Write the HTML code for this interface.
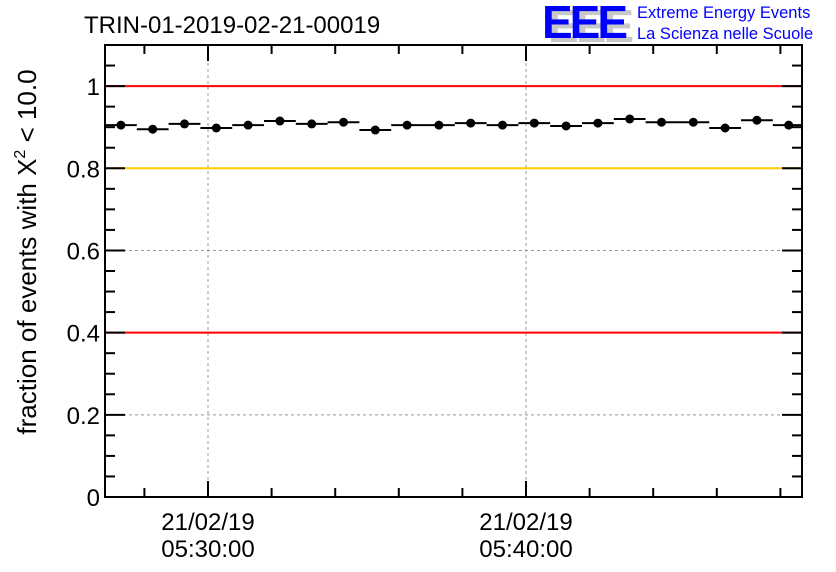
<!DOCTYPE html>
<html><head><meta charset="utf-8"><style>
body{margin:0;background:#fff;}
svg{display:block;font-family:"Liberation Sans",sans-serif;}
</style></head><body>
<svg id="chart" width="836" height="572" viewBox="0 0 836 572">
<text x="84" y="33" font-size="24">TRIN-01-2019-02-21-00019</text>
<g>
<text x="548" y="42" font-size="46" font-weight="bold" fill="#c8c8c8" letter-spacing="-3">EEE</text>
<text x="542" y="38" font-size="46" font-weight="bold" fill="#0000ff" letter-spacing="-3">EEE</text>
<text x="637" y="18" font-size="16.5" fill="#0000ff">Extreme Energy Events</text>
<text x="637" y="39" font-size="16.5" fill="#0000ff">La Scienza nelle Scuole</text>
</g>
<g id="grid"></g>
<g id="refs"></g>
<g id="marks"></g>
<g id="axes"></g>
<text transform="translate(36,252) rotate(-90)" text-anchor="middle" font-size="26">fraction of events with X<tspan dy="-11" font-size="16">2</tspan><tspan dy="11"> &lt; 10.0</tspan></text>
</svg>
<script>
const values=[0.905,0.895,0.908,0.898,0.905,0.915,0.908,0.912,0.893,0.905,0.905,0.91,0.905,0.91,0.903,0.91,0.92,0.912,0.912,0.898,0.917,0.905];
const yTicks=[0,0.2,0.4,0.6,0.8,1];
const yTickLabels=["0","0.2","0.4","0.6","0.8","1"];
const xMajorMinutes=[10,20];
const xTickLabels=[["21/02/19","05:30:00"],["21/02/19","05:40:00"]];
const refLines=[1.0,0.8,0.4];
const refColors=["#ff0000","#ffcc00","#ff0000"];

const L=105,R=802,T=45,B=497;
const minPx=31.8;
function xm(m){return 208+(m-10)*minPx;}
function binStart(i){return L+i*minPx;}
function y(v){return B-(v/1.1)*(B-T);}
const NS="http://www.w3.org/2000/svg";
function mk(p,tag,a){const e=document.createElementNS(NS,tag);for(const k in a)e.setAttribute(k,a[k]);document.getElementById(p).appendChild(e);return e;}

yTicks.forEach((v,i)=>{
 if(v>0&&v<1&&v!==0.8&&v!==0.4){
  const g=mk('grid','line',{x1:L,x2:R,y1:y(v),y2:y(v),stroke:'#999','stroke-dasharray':'3,3'});
  
  
 }
 const t=mk('axes','text',{x:L-5,y:y(v)+9,'text-anchor':'end','font-size':24});
 t.textContent=yTickLabels[i];
 
 
});
xMajorMinutes.forEach((m,i)=>{
 const g=mk('grid','line',{x1:xm(m),x2:xm(m),y1:T,y2:B,stroke:'#999','stroke-dasharray':'3,3'});
 
 
 xTickLabels[i].forEach((s,j)=>{
  const t=mk('axes','text',{x:xm(m),y:530+j*27,'text-anchor':'middle','font-size':24});
  t.textContent=s;
  
  
 });
});
refLines.forEach((v,i)=>{
 const l=mk('refs','line',{x1:L,x2:R,y1:y(v),y2:y(v),stroke:refColors[i],'stroke-width':2});
 
 
});
values.forEach((v,i)=>{
 const xs=binStart(i), xe=binStart(i+1), cx=(xs+xe)/2, cy=y(v);
 const l=mk('marks','line',{x1:xs,x2:Math.min(xe,R),y1:cy,y2:cy,stroke:'#000','stroke-width':2});
 
 
 const c=mk('marks','circle',{cx:cx,cy:cy,r:4.5,fill:'#000'});
 
 
});
const f=mk('axes','rect',{x:L,y:T,width:R-L,height:B-T,fill:'none',stroke:'#000','stroke-width':2});


for(let v=0;v<=1.1001;v+=0.05){
 const maj=Math.abs(v*5-Math.round(v*5))<1e-6;
 const len=maj?20:10;
 const a=mk('axes','line',{x1:L,x2:L+len,y1:y(v),y2:y(v),stroke:'#000','stroke-width':2});
 
 
 const b=mk('axes','line',{x1:R,x2:R-len,y1:y(v),y2:y(v),stroke:'#000','stroke-width':2});
 
 
}
for(let m=6;m<=30;m+=2){
 const px=xm(m); if(px<=L||px>=R)continue;
 const maj=m%10===0, len=maj?16:9;
 const a=mk('axes','line',{x1:px,x2:px,y1:B,y2:B-len,stroke:'#000','stroke-width':2});
 
 
 const b=mk('axes','line',{x1:px,x2:px,y1:T,y2:T+len,stroke:'#000','stroke-width':2});
 
 
}
</script>
</body></html>
